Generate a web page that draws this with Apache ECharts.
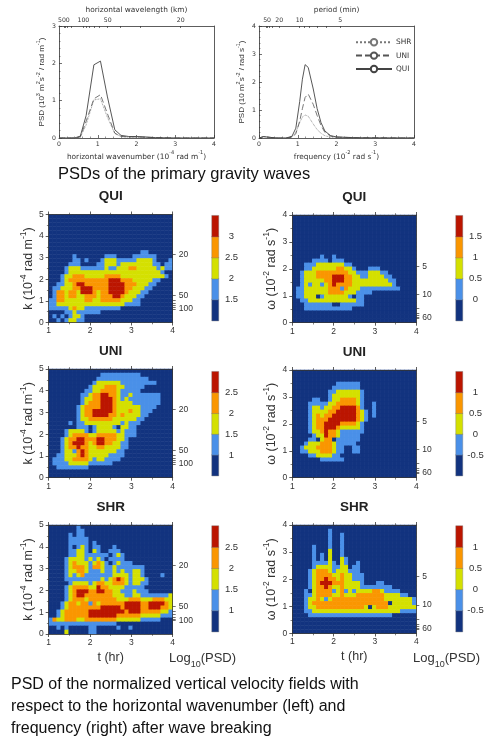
<!DOCTYPE html>
<html>
<head>
<meta charset="utf-8">
<script src="https://cdn.jsdelivr.net/npm/echarts@6/dist/echarts.min.js"></script>
<style>
html,body{margin:0;padding:0;background:#fff;}
#chart{width:497px;height:749px;}
</style>
</head>
<body>
<div id="chart"></div>
<script>
// top line plots
var kValues = [0, 0.4, 0.55, 0.7, 0.9, 1.07, 1.25, 1.44, 1.6, 1.8, 2.0, 2.2, 2.5, 3, 4];
var kQui = [0, 0, 0.05, 0.6, 1.96, 2.06, 1.1, 0.22, 0.07, 0.04, 0.04, 0.03, 0.01, 0, 0];
var kUni = [0, 0, 0.03, 0.45, 1.05, 1.16, 0.65, 0.13, 0.04, 0.03, 0.03, 0.02, 0.01, 0, 0];
var kShr = [0, 0, 0.02, 0.35, 1.02, 1.05, 0.55, 0.12, 0.04, 0.02, 0.02, 0.02, 0, 0, 0];
var wValues = [0, 0.12, 0.3, 0.5, 0.7, 0.85, 0.95, 1.05, 1.12, 1.19, 1.27, 1.4, 1.5, 1.6, 1.7, 1.85, 2, 2.3, 2.6, 4];
var wQui = [0, 0.05, 0.02, 0, 0, 0.06, 0.35, 1.3, 2.1, 2.62, 2.52, 1.75, 1.05, 0.55, 0.25, 0.08, 0.04, 0.02, 0.01, 0];
var wUni = [0, 0.05, 0.02, 0, 0, 0.03, 0.15, 0.6, 1.05, 1.45, 1.57, 1.2, 0.8, 0.45, 0.2, 0.07, 0.03, 0.02, 0.01, 0];
var wShr = [0, 0.05, 0.02, 0, 0, 0.04, 0.2, 0.55, 0.75, 0.82, 0.78, 0.5, 0.3, 0.17, 0.08, 0.03, 0.02, 0.01, 0, 0];
var lineNames = ['SHR', 'UNI', 'QUI'];

// wavelength (km) and period (min) ticks of the secondary axes
var wavelengthLabels = [500, 100, 50, 20];
var wavelengthTicks = [500, 400, 300, 200, 100, 90, 80, 70, 60, 50, 40, 30, 20];
var periodLabels = [50, 20, 10, 5];
var periodTicks = [60, 50, 40, 30, 20, 10, 9, 8, 7, 6, 5];
var sideWavelengthLabels = [100, 50, 20];
var sideWavelengthTicks = [100, 90, 80, 70, 60, 50, 20];
var sidePeriodLabels = [60, 10, 5];
var sidePeriodTicks = [60, 50, 40, 30, 20, 10, 5];

// contour bands, one digit per cell, top row first (0 lowest band .. 4 highest)
var quiK = [
"","","","","","","","","",
"00000000000000000000000 11",
"0000001000000011100001111110000",
"0000001101000122211111222210001",
"0000011100001122212222222211011",
"0000122211111121122233222221211",
"0000122222222222222222222222100",
"0001223332222233332222222222210",
"0001233333333334443332222211000",
"0011223443333334444333222110000",
"0112223344433334444332221100000",
"0133233244432334444322211000000",
"0133233223332333443222110000000",
"1133222223322333332221100000000",
"1122222222222222222111100000000",
"1111123221111111110000000000000",
"0000112111111000000000000000000",
"0101012210000000000000000000000",
"0010122110000000000000000000000"
];
quiK[9] = "0000000000000000000000011";
var quiW = [
"","","","","","","","","","",
"00000001001",
"0000011110111",
"000111222222211",
"0001122222233221000111",
"001222333333332211122211",
"0012223333444332211222211",
"00122222334443322222222211",
"00121221234333322222222221",
"0112222223331322211111111110",
"01122222233332221111",
"011222012222221011",
"001122222222222211",
"000111111100111111",
"000111111111111",
"","",""
];
var uniK = [
"",
"00000000000001111111111",
"0000000000001111111111111",
"000000000001222222111111111",
"000000000012223332211111",
"00000000011223333211111",
"0000000011233443321121111111",
"0000000012233444321211111111",
"0000000012333444322221111111",
"000000012333344432222221111",
"00000001233444443222322111",
"0000000123344443323222211",
"000000012233333322222211",
"000001011222222222121 11",
"00000001110122221022 11",
"00001222210122222121 11",
"00001233332233333221 11",
"00012334433344333221",
"000123444323443322 11",
"0001233433223322221 1",
"0001221343222222211",
"00112223432222211 11",
"01112233332122111 1",
"011112222211111 1",
"0011111111",
"",""
];
uniK[13] = "0000010112222222221211 1".replace(" ", "");
uniK[14] = "000000011101222210221 1".replace(" ", "");
uniK[15] = "0000122221012222212111";
uniK[16] = "0000123333223333322111";
uniK[18] = "00012344432344332211";
uniK[19] = "00012334332233222211";
uniK[21] = "0011222343222221111";
uniK[22] = "011122333321221111";
uniK[23] = "0111122222111111";
var uniW = [
"","","",
"0000000000011111 1",
"00000000001111111",
"000000000112222221",
"000000000122222221",
"000001100122333321",
"000011111223333321001",
"000012212233444431001",
"0000122223344444321 01",
"0000123233444444321 01",
"000012333444444432 1",
"00001233444433332 1",
"00001233444322222 1",
"00001223433211111 1",
"0000012243321111 1",
"00001102330111111",
"000122233321111 1",
"001222333321100 11",
"001122233321100 11",
"0000112222110",
"000000011111 1",
"","","",""
];
for (var u = 0; u < uniW.length; u++) { uniW[u] = uniW[u].replace(/ /g, ""); }
var shrK = [
"00000001",
"000000011",
"000001011",
"0000011111",
"000001111101",
"00000101210110001",
"000001122102100111",
"0000011221111110121",
"0000122221212101111",
"000012322212321012111",
"000012333213321121111111",
"000012233211121121211221",
"00001212311111112222122100001",
"0000111111111212343212221",
"0000012222123322333212211",
"000012333322433222211111",
"0000123444334433221112111",
"0000123443333333222112211111112",
"0000123332333333322233322233322",
"0001233233132333333444433444432",
"0001233333333444443444433444332",
"0012333333444444444344433333221",
"0012333333444444433333322222111",
"1322333223333333322222211111",
"11111111111111111",
"001010000011000001001",
"0000200000110"
];
var shrW = [
"",
"0000000001",
"0000000001001",
"0000000001001",
"0000000001001",
"0000010001001",
"0000010002001",
"0000010102001",
"00000101020021",
"000001111210210 01",
"0000012222112201 1",
"000012333212221 11",
"00001233332232 2111",
"000012334332322111",
"00001234443332222100011",
"0000123343223222211111111",
"00010233331231212222332 1111",
"000112333322322233333332222 11",
"0001223212333333333333322222221",
"0001233333333333333333333022222 1",
"0001223333333333332023332222222",
"0001122222222222222222222221111",
"0000111111111111111111111",
"","","",""
];
shrW[9] = "00000111121021001";
shrW[10] = "00000122221122011";
shrW[11] = "00001233321222111";
shrW[12] = "000012333322322111";
shrW[16] = "0001023333123121222233 21111".replace(" ", "");
shrW[17] = "00011233332232223333333222211";
shrW[19] = "0001233333333333333333330222221";

// colour bar tick labels, low band boundary first
var barQuiK = ['1.5', '2', '2.5', '3'];
var barQuiW = ['0', '0.5', '1', '1.5'];
var barUniK = ['1', '1.5', '2', '2.5'];
var barUniW = ['-0.5', '0', '0.5', '1'];
var barShrK = ['1', '1.5', '2', '2.5'];
var barShrW = ['-0.5', '0', '0.5', '1'];

var bandColors = ['#12337f', '#4a90e8', '#d4e000', '#fa9600', '#bb1500'];
var inkColor = '#333';
var sansFont = '"Liberation Sans", Arial, sans-serif';
var wideFont = '"DejaVu Sans", sans-serif';
var nCols = 31, nRows = 27;

function kFromWavelength(km) { return 2 * Math.PI * 10 / km; }
function wFromPeriod(min) { return 2 * Math.PI * 100 / (60 * min); }

var richSmall = {
    n: {fontFamily: sansFont, fontSize: 8, lineHeight: 11, verticalAlign: 'bottom', color: inkColor},
    s: {fontFamily: sansFont, fontSize: 5.5, lineHeight: 11, verticalAlign: 'top', color: inkColor}
};
var richWide = {
    n: {fontFamily: wideFont, fontSize: 7.4, lineHeight: 11, verticalAlign: 'bottom', color: inkColor},
    s: {fontFamily: wideFont, fontSize: 5, lineHeight: 11, verticalAlign: 'top', color: inkColor}
};
var richBig = {
    n: {fontFamily: sansFont, fontSize: 12.5, lineHeight: 16, verticalAlign: 'bottom', color: inkColor},
    s: {fontFamily: sansFont, fontSize: 8.5, lineHeight: 16, verticalAlign: 'top', color: inkColor}
};

var grids = [], xAxes = [], yAxes = [], series = [];
var heatIndexes = [];

function frameLine() { return {show: true, onZero: false, lineStyle: {color: inkColor, width: 0.8}}; }
function pairs(xs, ys) { return xs.map(function (x, i) { return [x, ys[i]]; }); }

// one of the two PSD line plots
function addLinePlot(cfg) {
    var g = grids.length;
    grids.push({left: cfg.left, top: 26, width: 155, height: 112});
    xAxes.push({
        gridIndex: g, type: 'value', min: 0, max: 4, interval: 1, position: 'bottom',
        axisLine: frameLine(), splitLine: {show: false},
        axisTick: {inside: true, length: 3, lineStyle: {color: inkColor, width: 0.7}},
        minorTick: {show: true, splitNumber: 5, length: 1.5, lineStyle: {color: inkColor, width: 0.5}},
        axisLabel: {fontFamily: wideFont, fontSize: 6.2, color: inkColor, margin: 3},
        name: cfg.xName, nameLocation: 'middle', nameGap: 12, nameTextStyle: {rich: richWide}
    });
    xAxes.push({
        gridIndex: g, type: 'value', min: 0, max: 4, position: 'top',
        axisLine: frameLine(), splitLine: {show: false},
        axisTick: {inside: true, length: 2, customValues: cfg.topTicks, lineStyle: {color: inkColor, width: 0.7}},
        axisLabel: {
            fontFamily: wideFont, fontSize: 6.2, color: inkColor, margin: 3, showMinLabel: true, showMaxLabel: true,
            customValues: cfg.topLabels, formatter: cfg.topFormat
        },
        name: cfg.topName, nameLocation: 'middle', nameGap: 12, nameTextStyle: {rich: richWide}
    });
    yAxes.push({
        gridIndex: g, type: 'value', min: 0, max: cfg.yMax, interval: 1, position: 'left',
        axisLine: frameLine(), splitLine: {show: false},
        axisTick: {inside: true, length: 3, lineStyle: {color: inkColor, width: 0.7}},
        minorTick: {show: true, splitNumber: 5, length: 1.5, lineStyle: {color: inkColor, width: 0.5}},
        axisLabel: {fontFamily: wideFont, fontSize: 6.2, color: inkColor, margin: 3},
        name: cfg.yName, nameLocation: 'middle', nameGap: 13, nameRotate: 90, nameTextStyle: {rich: richSmall}
    });
    yAxes.push({
        gridIndex: g, type: 'value', min: 0, max: cfg.yMax, position: 'right',
        axisLine: frameLine(), axisTick: {show: false}, axisLabel: {show: false}, splitLine: {show: false}
    });
    var xi = xAxes.length - 2, yi = yAxes.length - 2;
    var styles = [
        {type: 'dotted', color: '#777', width: 0.8},
        {type: [6, 3], color: '#555', width: 0.8},
        {type: 'solid', color: '#444', width: 0.9}
    ];
    lineNames.forEach(function (name, i) {
        series.push({
            type: 'line', name: name, xAxisIndex: xi, yAxisIndex: yi, showSymbol: false, silent: true,
            data: pairs(cfg.xs, cfg.lines[i]), lineStyle: styles[i], itemStyle: {color: styles[i].color}
        });
    });
}

// one contour panel with its colour bar
function addPanel(cfg) {
    var g = grids.length;
    grids.push({left: cfg.left, top: cfg.top, width: 124, height: cfg.height});
    var tickStyle = {length: 3, lineStyle: {color: inkColor, width: 0.8}};
    var minor = {show: true, splitNumber: 2, length: 1.8, lineStyle: {color: inkColor, width: 0.6}};
    var labelStyle = {fontFamily: sansFont, fontSize: 8.5, color: inkColor};
    xAxes.push({
        gridIndex: g, type: 'value', min: 1, max: 4, interval: 1, position: 'bottom', z: 5,
        axisLine: frameLine(), axisTick: tickStyle, minorTick: minor, splitLine: {show: false},
        axisLabel: Object.assign({margin: 4}, labelStyle),
        name: cfg.xName || '', nameLocation: 'middle', nameGap: 17,
        nameTextStyle: {fontFamily: sansFont, fontSize: 12.5, color: inkColor}
    });
    xAxes.push({
        gridIndex: g, type: 'value', min: 1, max: 4, interval: 1, position: 'top', z: 5,
        axisLine: frameLine(), axisTick: tickStyle, minorTick: minor, axisLabel: {show: false}, splitLine: {show: false},
        name: cfg.title, nameLocation: 'middle', nameGap: 11,
        nameTextStyle: {fontFamily: sansFont, fontSize: 13.5, fontWeight: 'bold', color: '#222'}
    });
    var cats = [], rowsCats = [], c, r;
    for (c = 0; c < nCols; c++) cats.push(c);
    for (r = 0; r < nRows; r++) rowsCats.push(r);
    xAxes.push({gridIndex: g, type: 'category', data: cats, show: false});
    yAxes.push({
        gridIndex: g, type: 'value', min: 0, max: cfg.yMax, interval: 1, position: 'left', z: 5,
        axisLine: frameLine(), axisTick: tickStyle, minorTick: minor, splitLine: {show: false},
        axisLabel: Object.assign({margin: 5}, labelStyle),
        name: cfg.yName, nameLocation: 'middle', nameGap: 14, nameRotate: 90, nameTextStyle: {rich: richBig}
    });
    yAxes.push({
        gridIndex: g, type: 'value', min: 0, max: cfg.yMax, position: 'right', z: 5,
        axisLine: frameLine(), splitLine: {show: false},
        axisTick: {length: 3, customValues: cfg.sideTicks, lineStyle: {color: inkColor, width: 0.7}},
        axisLabel: Object.assign({margin: 6, customValues: cfg.sideLabels, formatter: cfg.sideFormat}, labelStyle)
    });
    yAxes.push({gridIndex: g, type: 'category', data: rowsCats, show: false});
    var cells = [];
    for (r = 0; r < nRows; r++) {
        var row = cfg.rows[r] || '';
        for (c = 0; c < nCols; c++) {
            cells.push([c, nRows - 1 - r, Number(row.charAt(c) || 0)]);
        }
    }
    heatIndexes.push(series.length);
    series.push({
        type: 'heatmap', xAxisIndex: xAxes.length - 1, yAxisIndex: yAxes.length - 1, silent: true,
        progressive: 0, data: cells, emphasis: {disabled: true}
    });

    // colour bar
    var b = grids.length;
    grids.push({left: cfg.barLeft, top: cfg.barTop, width: 6.5, height: cfg.barHeight});
    xAxes.push({gridIndex: b, type: 'category', data: [0], show: false});
    yAxes.push({gridIndex: b, type: 'category', data: [0, 1, 2, 3, 4], show: false});
    yAxes.push({
        gridIndex: b, type: 'value', min: 0, max: 5, interval: 1, position: 'right',
        axisLine: {show: false}, axisTick: {show: false}, splitLine: {show: false},
        axisLabel: {
            fontFamily: sansFont, fontSize: 9.5, color: inkColor, margin: 13, align: 'center',
            showMinLabel: false, showMaxLabel: false,
            formatter: function (v) { return cfg.barLabels[v - 1] || ''; }
        }
    });
    heatIndexes.push(series.length);
    series.push({
        type: 'heatmap', xAxisIndex: xAxes.length - 1, yAxisIndex: yAxes.length - 2, silent: true,
        data: [[0, 0, 0], [0, 1, 1], [0, 2, 2], [0, 3, 3], [0, 4, 4]],
        itemStyle: {borderColor: '#777', borderWidth: 0.4}, emphasis: {disabled: true}
    });
}

addLinePlot({
    left: 59, xs: kValues, lines: [kShr, kUni, kQui], yMax: 3,
    xName: '{n|horizontal wavenumber (10}{s|-4}{n| rad m}{s|-1}{n|)}',
    topName: '{n|horizontal wavelength (km)}',
    yName: '{n|PSD (10}{s|3}{n| m}{s|2}{n|s}{s|-2}{n| / rad m}{s|-1}{n|)}',
    topTicks: wavelengthTicks.map(kFromWavelength),
    topLabels: wavelengthLabels.map(kFromWavelength),
    topFormat: function (v) { return Math.round(2 * Math.PI * 10 / v); }
});
addLinePlot({
    left: 259, xs: wValues, lines: [wShr, wUni, wQui], yMax: 4,
    xName: '{n|frequency (10}{s|-2}{n| rad s}{s|-1}{n|)}',
    topName: '{n|period (min)}',
    yName: '{n|PSD (10 m}{s|2}{n|s}{s|-2}{n| / rad s}{s|-1}{n|)}',
    topTicks: periodTicks.map(wFromPeriod),
    topLabels: periodLabels.map(wFromPeriod),
    topFormat: function (v) { return Math.round(2 * Math.PI * 100 / (60 * v)); }
});

var kName = '{n|k (10}{s|-4}{n| rad m}{s|-1}{n|)}';
var wName = '{n|\u03c9 (10}{s|-2}{n| rad s}{s|-1}{n|)}';
var sideK = {
    yMax: 5, yName: kName, left: 48.7, barLeft: 212,
    sideTicks: sideWavelengthTicks.map(kFromWavelength), sideLabels: sideWavelengthLabels.map(kFromWavelength),
    sideFormat: function (v) { return Math.round(2 * Math.PI * 10 / v); }
};
var sideW = {
    yMax: 4, yName: wName, left: 292.3, barLeft: 456,
    sideTicks: sidePeriodTicks.map(wFromPeriod), sideLabels: sidePeriodLabels.map(wFromPeriod),
    sideFormat: function (v) { return Math.round(2 * Math.PI * 100 / (60 * v)); }
};
addPanel(Object.assign({title: 'QUI', rows: quiK, top: 214.5, height: 108, barTop: 215.7, barHeight: 105, barLabels: barQuiK}, sideK));
addPanel(Object.assign({title: 'QUI', rows: quiW, top: 215, height: 107.7, barTop: 215.7, barHeight: 105, barLabels: barQuiW}, sideW));
addPanel(Object.assign({title: 'UNI', rows: uniK, top: 369, height: 108.7, barTop: 371.7, barHeight: 104, barLabels: barUniK}, sideK));
addPanel(Object.assign({title: 'UNI', rows: uniW, top: 370, height: 107.7, barTop: 371.7, barHeight: 104, barLabels: barUniW}, sideW));
addPanel(Object.assign({title: 'SHR', rows: shrK, top: 525, height: 109, barTop: 526, barHeight: 105.7, barLabels: barShrK, xName: 't (hr)'}, sideK));
addPanel(Object.assign({title: 'SHR', rows: shrW, top: 525, height: 108.5, barTop: 526, barHeight: 105.7, barLabels: barShrW, xName: 't (hr)'}, sideW));

function captionText(text, x, y, size) {
    return {type: 'text', left: x, top: y, silent: true, style: {text: text, fontFamily: sansFont, fontSize: size, fill: '#111', lineHeight: 22}};
}
function logText(x) {
    return {
        type: 'text', left: x, top: 652, silent: true,
        style: {
            text: '{n|Log}{d|10}{n|(PSD)}', fill: inkColor,
            rich: {
                n: {fontFamily: sansFont, fontSize: 13, lineHeight: 17, verticalAlign: 'top', fill: inkColor},
                d: {fontFamily: sansFont, fontSize: 9, lineHeight: 17, verticalAlign: 'bottom', fill: inkColor}
            }
        }
    };
}

var chart = echarts.init(document.getElementById('chart'));
chart.setOption({
    animation: false,
    backgroundColor: '#fff',
    grid: grids,
    xAxis: xAxes,
    yAxis: yAxes,
    series: series,
    visualMap: {
        show: false, type: 'piecewise', seriesIndex: heatIndexes, dimension: 2,
        pieces: bandColors.map(function (col, i) { return {value: i, color: col}; })
    },
    legend: {
        left: 350, top: 33, orient: 'vertical', itemWidth: 36, itemHeight: 8, itemGap: 5, selectedMode: false,
        data: lineNames, textStyle: {fontFamily: wideFont, fontSize: 7.4, color: inkColor, padding: [0, 0, 0, -1]}
    },
    graphic: [
        captionText('PSDs of the primary gravity waves', 58, 163, 16.5),
        captionText('PSD of the normalized vertical velocity fields with\nrespect to the horizontal wavenumber (left) and\nfrequency (right) after wave breaking', 11, 674, 16),
        logText(169),
        logText(413)
    ]
});
</script>
</body>
</html>
